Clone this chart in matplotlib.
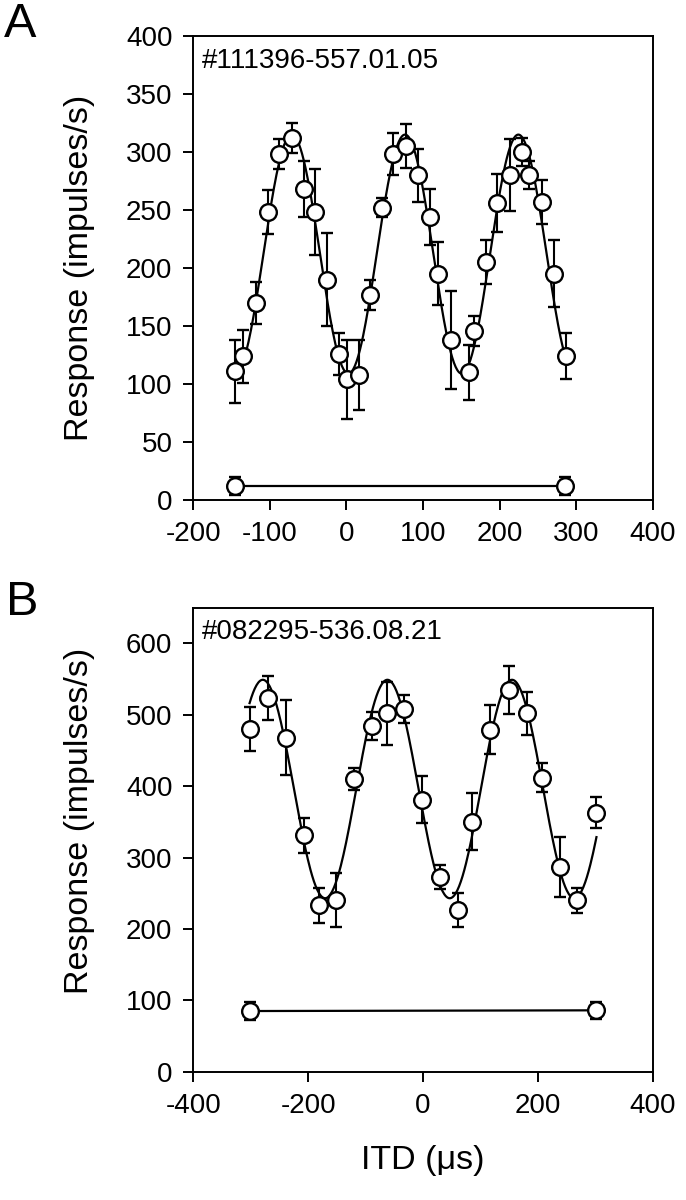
import numpy as np
import matplotlib.pyplot as plt

plt.rcParams['font.family'] = ['Liberation Sans', 'DejaVu Sans']
plt.rcParams['axes.unicode_minus'] = False

# panel A data (ITD in us, response in impulses/s)
itd_a = [-145, -135, -118, -103, -88, -71, -56, -41, -26, -10, 1, 16, 31, 46, 61,
         78, 94, 109, 120, 136, 160, 167, 182, 197, 214, 229, 238, 255, 271, 287]
resp_a = [111, 124, 170, 248, 298, 312, 268, 248, 190, 126, 104, 108, 177, 252, 298,
          305, 280, 244, 195, 138, 110, 146, 205, 256, 280, 300, 280, 257, 195, 124]
err_a = [27, 23, 18, 19, 13, 13, 24, 37, 40, 18, 34, 30, 13, 8, 18,
         19, 23, 24, 27, 42, 24, 13, 19, 25, 31, 12, 12, 19, 29, 20]
base_itd_a = [-145, 286]
base_resp_a = [12, 12]
base_err_a = [8, 8]
# fitted cosine: offset, amplitude, period, peak ITD, range
fit_a = dict(offset=212, amp=103, period=148, peak=-71.5, lo=-143, hi=287)

# panel B data
itd_b = [-301, -270, -239, -208, -182, -152, -120, -88, -63, -33, -2, 29, 61, 86,
         117, 150, 181, 208, 238, 269, 302]
resp_b = [480, 523, 468, 331, 233, 241, 410, 484, 502, 508, 381, 273, 227, 350,
          479, 535, 502, 412, 287, 240, 363]
err_b = [31, 31, 53, 25, 24, 38, 16, 20, 44, 20, 33, 17, 24, 40,
         34, 34, 30, 20, 42, 17, 22]
base_itd_b = [-301, 302]
base_resp_b = [85, 86]
base_err_b = [12, 12]
fit_b = dict(offset=396, amp=153, period=217, peak=-62, lo=-302, hi=302)

fig = plt.figure(figsize=(6.86, 12), dpi=100)
ax_a = fig.add_axes([0.2818, 0.5833, 0.6697, 0.3867])
ax_b = fig.add_axes([0.2818, 0.1069, 0.6697, 0.3867])

ebkw = dict(fmt='o', ms=12, mfc='white', mec='black', mew=1.7, ecolor='black',
            elinewidth=1.5, capsize=4.5, capthick=1.5, zorder=3)


def draw(ax, itd, resp, err, bx, by, be, fit, label):
    xs = np.linspace(fit['lo'], fit['hi'], 400)
    ys = fit['offset'] + fit['amp'] * np.cos(2 * np.pi * (xs - fit['peak']) / fit['period'])
    ax.plot(xs, ys, color='black', lw=1.6, zorder=1)
    ax.errorbar(itd, resp, yerr=err, **ebkw)
    ax.plot(bx, by, color='black', lw=1.6, zorder=1)
    ax.errorbar(bx, by, yerr=be, **ebkw)
    ax.text(0.018, 0.975, label, transform=ax.transAxes, fontsize=20,
            ha='left', va='top')
    ax.tick_params(direction='out', length=7, width=1.4, labelsize=20, pad=8)
    for s in ax.spines.values():
        s.set_linewidth(1.4)
    ax.set_ylabel('Response (impulses/s)', fontsize=24.5)


draw(ax_a, itd_a, resp_a, err_a, base_itd_a, base_resp_a, base_err_a, fit_a,
     '#111396-557.01.05')
ax_a.set_xlim(-200, 400)
ax_a.set_ylim(0, 400)
ax_a.set_xticks(range(-200, 401, 100))
ax_a.set_yticks(range(0, 401, 50))
ax_a.yaxis.set_label_coords(-0.215, 0.5)

draw(ax_b, itd_b, resp_b, err_b, base_itd_b, base_resp_b, base_err_b, fit_b,
     '#082295-536.08.21')
ax_b.set_xlim(-400, 400)
ax_b.set_ylim(0, 650)
ax_b.set_xticks(range(-400, 401, 200))
ax_b.set_yticks(range(0, 601, 100))
ax_b.yaxis.set_label_coords(-0.215, 0.54)

fig.text(423 / 686, 1 - 1160 / 1200, 'ITD (μs)', fontsize=24.5, ha='center', va='center')
fig.text(4 / 686, 1 - 2 / 1200, 'A', fontsize=35, ha='left', va='top')
fig.text(6 / 686, 1 - 580 / 1200, 'B', fontsize=35, ha='left', va='top')

fig.savefig('out.png', dpi=100)
